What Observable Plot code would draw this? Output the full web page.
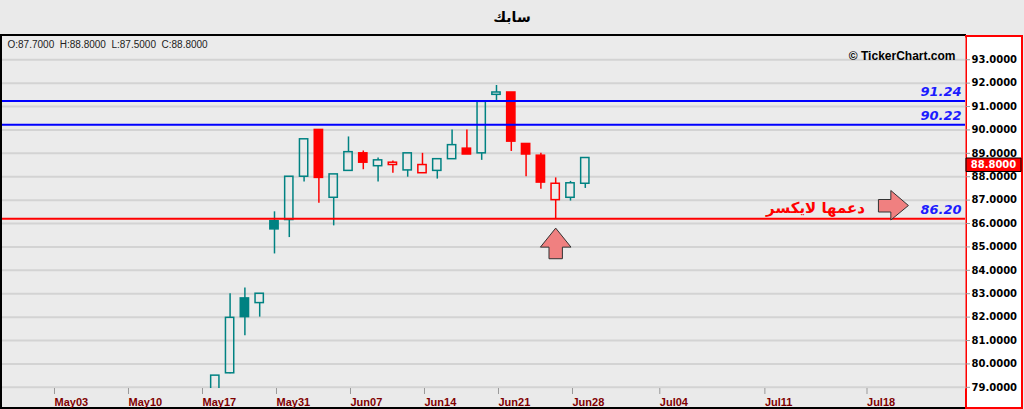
<!DOCTYPE html>
<html><head><meta charset="utf-8">
<script src="https://cdn.jsdelivr.net/npm/d3@7"></script>
<script src="https://cdn.jsdelivr.net/npm/@observablehq/plot@0.6"></script>
<style>
html,body{margin:0;padding:0;background:#eaeaea;}
#wrap{position:relative;width:1024px;height:409px;overflow:hidden;background:#eaeaea;font-family:"DejaVu Sans",sans-serif;}
#title{position:absolute;left:0;top:0;width:1024px;height:35px;line-height:35px;text-align:center;font-weight:bold;font-size:14px;color:#000;}
#frame{position:absolute;left:0;top:34px;width:966px;height:375px;box-sizing:border-box;border-top:2px solid #000;border-left:2px solid #000;border-bottom:2px solid #000;}
#panel{position:absolute;left:965px;top:35px;width:58px;height:374px;box-sizing:border-box;border:2px solid #f00;background:#fff;}
#chart{position:absolute;left:0;top:35px;}
#chart svg{background:transparent;}
</style></head>
<body><div id="wrap"><div id="title"></div><div id="frame"></div><div id="panel"></div><div id="chart"></div></div>
<script>
// ---- data ----
const symbolName = "سابك";
const slots  = [11,12,13,14,15,16,17,18,19,20,21,22,23,24,25,26,27,28,29,30,31,32,33,34,35,36];
const opens  = [78.4,79.6,82.8,82.6,86.1,86.15,88.0,90.0,87.1,88.25,89.0,88.45,88.5,88.27,88.15,88.25,88.75,89.2,89.0,91.5,91.6,89.4,88.9,87.0,87.1,87.7];
const highs  = [79.5,83.0,83.25,83.0,86.5,88.0,89.6,90.0,88.1,89.7,89.1,88.8,88.67,89.0,89.0,88.75,90.0,90.0,91.2,91.9,91.6,89.4,89.0,87.95,87.8,88.8];
const lows   = [78.2,79.58,81.2,82.0,84.7,85.4,87.77,86.87,85.9,88.25,88.3,87.77,88.15,87.98,88.15,87.9,88.75,88.95,88.7,91.26,89.08,88.0,87.47,86.2,86.96,87.5];
const closes = [79.5,81.97,82.0,83.0,85.75,88.0,89.6,87.95,88.1,89.05,88.6,88.7,88.6,89.0,88.5,88.75,89.35,88.95,91.2,91.6,89.5,88.95,87.75,87.7,87.72,88.8];
const tickSlots  = [0,5,10,15,20,25,30,35,40.9,48,54.9];
const tickLabels = ["May03","May10","May17","May31","Jun07","Jun14","Jun21","Jun28","Jul04","Jul11","Jul18"];
const priceTicks = [79,80,81,82,83,84,85,86,87,88,89,90,91,92,93];
const levels = [91.24, 90.22, 86.20];
const noteText = ["دعمها لايكسر"];
const noteSlot = [54.9];
const notePrice = [86.65];
const arrowSlot = [34, 56.8];
const arrowPrice = [85.15, 86.77];
const arrowDir = ["up", "right"];

// ---- build ----
document.getElementById("title").textContent = symbolName;
const TEAL = "#008282", RED = "#ff0000";
const candles = slots.map((s,k)=>{
  const d = {slot:s, open:opens[k], high:highs[k], low:lows[k], close:closes[k]};
  const prev = k ? closes[k-1] : opens[k];
  d.color = d.close >= prev ? TEAL : RED;
  d.filled = d.close < d.open;
  d.top = Math.max(d.open,d.close); d.bot = Math.min(d.open,d.close);
  return d;
});
const last = candles[candles.length-1];
const lastClose = last.close;
const fmt4 = v => v.toFixed(4);
const ohlcText = `O:${fmt4(last.open)}\u00a0\u00a0H:${fmt4(last.high)}\u00a0\u00a0L:${fmt4(last.low)}\u00a0\u00a0C:${fmt4(last.close)}`;

const upArrow = {draw(c){c.moveTo(0,-15.3);c.lineTo(15.3,3.7);c.lineTo(6.7,3.7);c.lineTo(6.7,15.3);c.lineTo(-6.7,15.3);c.lineTo(-6.7,3.7);c.lineTo(-15.3,3.7);c.closePath();}};
const rightArrow = {draw(c){c.moveTo(15.3,0);c.lineTo(-2.3,-15);c.lineTo(-2.3,-6);c.lineTo(-14.7,-6);c.lineTo(-14.7,6.5);c.lineTo(-2.3,6.5);c.lineTo(-2.3,14.5);c.closePath();}};
const arrows = arrowSlot.map((s,k)=>({slot:s, price:arrowPrice[k], dir:arrowDir[k]}));
const notes = noteText.map((t,k)=>({text:t, slot:noteSlot[k], price:notePrice[k]}));
const priceBox = {draw(c){c.rect(-27.5,0,55,13.5);}};

const chart = Plot.plot({
  width: 1024, height: 374,
  marginTop: 2, marginBottom: 21, marginLeft: 2, marginRight: 59,
  style: {fontFamily: "DejaVu Sans", background: "transparent", overflow: "visible"},
  x: {domain: [-3.378, 61.69], axis: null},
  y: {domain: [78.95, 93.95], axis: null},
  color: {type: "identity"},
  marks: [
    Plot.frame({fill: "#ebebeb", stroke: "none"}),
    Plot.gridY(priceTicks, {stroke: "#d3d3d3", strokeOpacity: 1, strokeWidth: 2}),
    // wicks
    Plot.ruleX(candles, {x: "slot", y1: "high", y2: "top", stroke: "color", strokeWidth: 1.5, clip: true}),
    Plot.ruleX(candles, {x: "slot", y1: "bot", y2: "low", stroke: "color", strokeWidth: 1.5, clip: true}),
    // bodies
    Plot.rect(candles.filter(d=>d.filled), {x1: d=>d.slot-0.28, x2: d=>d.slot+0.28, y1: "open", y2: "close", fill: "color", stroke: "color", strokeWidth: 1.5, clip: true}),
    Plot.rect(candles.filter(d=>!d.filled), {x1: d=>d.slot-0.28, x2: d=>d.slot+0.28, y1: "open", y2: "close", fill: "none", stroke: "color", strokeWidth: 1.5, clip: true}),
    // levels
    Plot.ruleY(levels, {y: d=>d, stroke: d=> d > lastClose ? "#0000ff" : "#ff0000", strokeWidth: 2}),
    Plot.text(levels, {y: d=>d, text: d=>d.toFixed(2), frameAnchor: "right", textAnchor: "end", dx: -4, dy: -9, fill: "#1c1cff", fontWeight: "bold", fontStyle: "italic", fontSize: 13}),
    // annotation
    Plot.text(notes, {x: "slot", y: "price", text: "text", textAnchor: "end", fill: "#ff0000", fontSize: 15, fontWeight: "bold"}),
    Plot.dot(arrows.filter(d=>d.dir==="up"), {x: "slot", y: "price", symbol: upArrow, fill: "#f08080", stroke: "#333", strokeWidth: 1}),
    Plot.dot(arrows.filter(d=>d.dir==="right"), {x: "slot", y: "price", symbol: rightArrow, fill: "#f08080", stroke: "#333", strokeWidth: 1}),
    // header texts
    Plot.text([ohlcText], {text: d=>d, frameAnchor: "top-left", textAnchor: "start", lineAnchor: "middle", dx: 5, dy: 7, fontFamily: "Liberation Sans", fontSize: 10, fill: "#222"}),
    Plot.text(["© TickerChart.com"], {text: d=>d, frameAnchor: "top-right", textAnchor: "end", lineAnchor: "middle", dx: -10, dy: 19, fontFamily: "Liberation Sans", fontWeight: "bold", fontSize: 12, fill: "#000"}),
    // axes
    Plot.axisX(tickSlots, {anchor: "bottom", tickFormat: (d,i)=>tickLabels[tickSlots.indexOf(d)], textAnchor: "start", dx: 2, tickSize: 6, tickPadding: 4, stroke: "#999", fill: "#800000", fontFamily: "Liberation Sans", fontWeight: "bold", fontSize: 11, label: null}),
    Plot.axisY(priceTicks, {anchor: "right", tickFormat: d=>d.toFixed(4), tickSize: 4, tickPadding: 2, stroke: "#999", fill: "#000", fontWeight: "bold", fontSize: 10, label: null}),
    // last price box
    Plot.dot([lastClose], {y: d=>d, frameAnchor: "right", dx: 28, symbol: priceBox, fill: "#ff0000", stroke: "#000", strokeWidth: 1}),
    Plot.text([lastClose], {y: d=>d, text: d=>d.toFixed(4), frameAnchor: "right", dx: 28, dy: 7, textAnchor: "middle", fill: "#fff", fontWeight: "bold", fontSize: 10})
  ]
});
document.getElementById("chart").appendChild(chart);
</script>
</body></html>
